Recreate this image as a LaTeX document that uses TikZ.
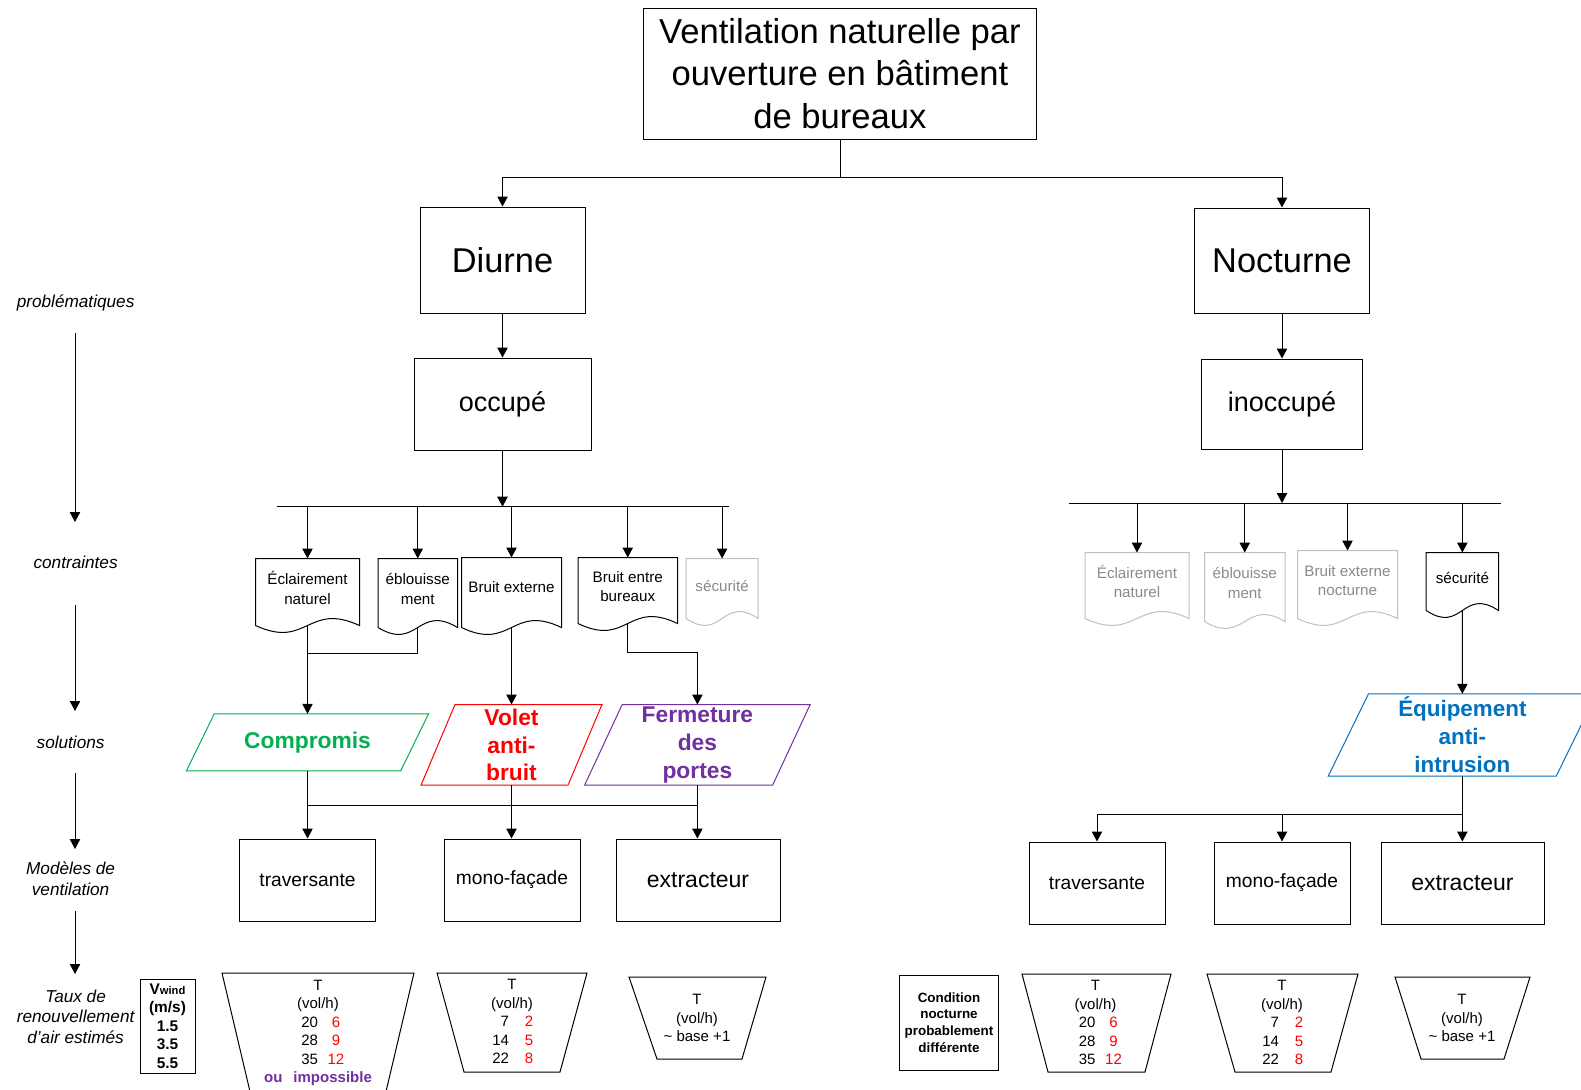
\documentclass[tikz,border=0pt]{standalone}
\usepackage{fontspec}
\setmainfont{Liberation Sans}
\usetikzlibrary{arrows.meta,calc,fit}
\definecolor{cgreen}{HTML}{00B050}
\definecolor{cpurple}{HTML}{7030A0}
\definecolor{cblue}{HTML}{0070C0}
\definecolor{cred}{HTML}{FF0000}
\definecolor{glin}{HTML}{BFBFBF}
\definecolor{gtxt}{HTML}{8A8A8A}
\newcommand\docout[2]{\draw[#2] (#1.south west) -- (#1.north west) -- (#1.north east) -- (#1.south east) .. controls ($(#1.south)+(0,-24)$) and ($(#1.south)+(0,24)$) .. (#1.south west) -- cycle;}
\newcommand\paraout[3]{\draw[#2] ($(#1.north west)+(#3,0)$) -- ($(#1.north east)+(#3,0)$) -- ($(#1.south east)+(-#3,0)$) -- ($(#1.south west)+(-#3,0)$) -- cycle;}
\newcommand\trow[4]{\hspace*{#4}\makebox[9pt][r]{#1}\hspace{#3}\makebox[9pt][c]{\textcolor{cred}{#2}}}
\begin{document}
\begin{tikzpicture}[x=0.5pt,y=-0.5pt,line width=0.5pt,
  arr/.style={-{Triangle[length=5pt,width=5.2pt]}},
  box/.style={draw,inner sep=0pt,align=center},
  fb/.style={inner sep=0pt},
  lab/.style={font=\fontsize{8.6}{10.3}\selectfont\itshape,align=center},
  ctext/.style={font=\fontsize{7.6}{9.7}\selectfont,align=center},
  soltext/.style={font=\fontsize{11.4}{13.9}\selectfont\bfseries,align=center},
  mtext/.style={font=\fontsize{9.6}{11}\selectfont},
  btext/.style={font=\fontsize{11.5}{13}\selectfont},
  ttext/.style={font=\fontsize{7.5}{9.25}\selectfont,align=center}]
\useasboundingbox (0,0) rectangle (1581,1089);

% ---- top level
\node[box,minimum width=393*0.5pt,minimum height=131*0.5pt,font=\fontsize{17.3}{21.25}\selectfont] (title) at (840,73.5) {Ventilation naturelle par\\ouverture en bâtiment\\de bureaux};
\node[box,minimum width=165*0.5pt,minimum height=106*0.5pt,font=\fontsize{17.2}{20}\selectfont] (diurne) at (502.5,260) {Diurne};
\node[box,minimum width=175*0.5pt,minimum height=105*0.5pt,font=\fontsize{17.2}{20}\selectfont] (nocturne) at (1282,260.5) {Nocturne};
\node[box,minimum width=177*0.5pt,minimum height=92*0.5pt,font=\fontsize{13.5}{16}\selectfont] (occupe) at (502.5,404) {occupé};
\node[box,minimum width=161*0.5pt,minimum height=90*0.5pt,font=\fontsize{13.5}{16}\selectfont] (inoccupe) at (1282,404) {inoccupé};

\coordinate (tj) at (840,177);
\draw (title.south) -- (tj);
\draw[arr] (tj) -| (diurne.north);
\draw[arr] (tj) -| (nocturne.north);
\draw[arr] (diurne.south) -- (occupe.north);
\draw[arr] (nocturne.south) -- (inoccupe.north);

% ---- buses
\coordinate (busL1) at (276.5,506.7);
\coordinate (busL2) at (729,506.7);
\draw (busL1) -- (busL2);
\draw[arr] (occupe.south) -- (occupe.south |- busL1);
\coordinate (busR1) at (1068.6,503);
\coordinate (busR2) at (1501,503);
\draw (busR1) -- (busR2);
\draw[arr] (inoccupe.south) -- (inoccupe.south |- busR1);

% ---- constraints (left)
\node[fb,fit={(256,559) (359,625)}] (ecl) {};
\node[fb,fit={(378.5,559) (457,627)}] (ebl) {};
\node[fb,fit={(462,558) (561,627)}] (bext) {};
\node[fb,fit={(578.5,558) (677,623)}] (bent) {};
\node[fb,fit={(686.6,559) (757.6,618)}] (secL) {};
\docout{ecl}{black}
\docout{ebl}{black}
\docout{bext}{black}
\docout{bent}{black}
\docout{secL}{glin}
\node[ctext] (eclt) at ($(ecl.center)+(0,-4)$) {Éclairement\\naturel};
\node[ctext] (eblt) at ($(ebl.center)+(0,-4)$) {éblouisse\\ment};
\node[ctext] (bextt) at ($(bext.center)+(0,-5)$) {Bruit externe};
\node[ctext] (bentt) at ($(bent.center)+(0,-4)$) {Bruit entre\\bureaux};
\node[ctext,text=gtxt] (secLt) at ($(secL.center)+(0,-3)$) {sécurité};
\foreach \n in {ecl,ebl,bext,bent,secL} \draw[arr] (\n.north |- busL1) -- (\n.north);

% ---- constraints (right)
\node[fb,fit={(1085.5,553) (1188.5,618)}] (eclR) {};
\node[fb,fit={(1205,553) (1284.5,621)}] (eblR) {};
\node[fb,fit={(1298,551) (1397,618)}] (bextR) {};
\node[fb,fit={(1426.7,553) (1498,610)}] (secR) {};
\docout{eclR}{glin}
\docout{eblR}{glin}
\docout{bextR}{glin}
\docout{secR}{black}
\node[ctext,text=gtxt] (eclRt) at ($(eclR.center)+(0,-4)$) {Éclairement\\naturel};
\node[ctext,text=gtxt] (eblRt) at ($(eblR.center)+(0,-4)$) {éblouisse\\ment};
\node[ctext,text=gtxt] (bextRt) at ($(bextR.center)+(0,-4)$) {Bruit externe\\nocturne};
\node[ctext] (secRt) at ($(secR.center)+(0,-4)$) {sécurité};
\foreach \n in {eclR,eblR,bextR,secR} \draw[arr] (\n.north |- busR1) -- (\n.north);

% ---- solutions
\node[fb,fit={(200.85,714.3) (414.15,770.3)}] (comp) {};
\node[fb,fit={(438.5,705) (584.5,784.7)}] (volet) {};
\node[fb,fit={(603.9,705) (790.9,784.7)}] (ferm) {};
\node[fb,fit={(1348.85,694.3) (1575.85,775.7)}] (equip) {};
\paraout{comp}{cgreen}{13.9}
\paraout{volet}{cred}{17}
\paraout{ferm}{cpurple}{18.8}
\paraout{equip}{cblue}{20.15}
\node[soltext,text=cgreen] (compt) at (comp.center) {Compromis};
\node[soltext,text=cred] (volett) at (volet.center) {Volet\\anti-\\bruit};
\node[soltext,text=cpurple] (fermt) at (ferm.center) {Fermeture\\des\\portes};
\node[soltext,text=cblue,font=\fontsize{11.2}{14}\selectfont\bfseries] (equipt) at (equip.center) {Équipement\\anti-\\intrusion};

\draw[arr] (ecl.south) -- (comp.north);
\draw (ebl.south) -- ++(0,26) -| (ecl.south);
\draw[arr] (bext.south) -- (bext.south |- volet.north);
\draw[arr] (bent.south) -- ++(0,28.7) -| (ferm.north);
\draw[arr] (secR.south) -- (equip.north);

% ---- models
\node[box,minimum width=136*0.5pt,minimum height=82*0.5pt,mtext] (trav) at (307.5,880) {traversante};
\node[box,minimum width=136*0.5pt,minimum height=82*0.5pt,mtext] (mono) at (512,880) {mono-façade};
\node[box,minimum width=164*0.5pt,minimum height=82*0.5pt,btext] (extr) at (698,880) {extracteur};
\node[box,minimum width=136*0.5pt,minimum height=82*0.5pt,mtext] (travR) at (1097,883) {traversante};
\node[box,minimum width=136*0.5pt,minimum height=82*0.5pt,mtext] (monoR) at (1282,883) {mono-façade};
\node[box,minimum width=163*0.5pt,minimum height=82*0.5pt,btext] (extrR) at (1462.5,883) {extracteur};

\coordinate (hL) at (0,805.7);
\draw[arr] (comp.south) -- (trav.north);
\draw[arr] (volet.south) -- (volet.south |- mono.north);
\draw[arr] (ferm.south) -- (ferm.south |- extr.north);
\draw (comp.south |- hL) -- (ferm.south |- hL);
\coordinate (hR) at (0,814);
\draw[arr] (equip.south) -- (equip.south |- extrR.north);
\draw[arr] (equip.south |- hR) -| (travR.north);
\draw[arr] (equip.south |- hR) -| (monoR.north);

% ---- left labels
\node[lab] (lp) at (75.6,302.5) {problématiques};
\node[lab] (lc) at (75.6,562.6) {contraintes};
\node[lab] (ls) at (70.6,742) {solutions};
\node[lab] (lm) at (70.6,878.5) {Modèles de\\ventilation};
\node[lab] (lt) at (75.6,1016.5) {Taux de\\renouvellement\\d'air estimés};
\coordinate (a1s) at (75,333); \coordinate (a1e) at (75,522);
\coordinate (a2s) at (75,605); \coordinate (a2e) at (75,711);
\coordinate (a3s) at (75,773); \coordinate (a3e) at (75,849);
\coordinate (a4s) at (75,911); \coordinate (a4e) at (75,974);
\draw[arr] (a1s) -- (a1e);
\draw[arr] (a2s) -- (a2e);
\draw[arr] (a3s) -- (a3e);
\draw[arr] (a4s) -- (a4e);

% ---- bottom row
\node[box,minimum width=55*0.5pt,minimum height=94*0.5pt,font=\fontsize{7.7}{9.25}\selectfont\bfseries] (vwind) at (167.5,1026) {V{\fontsize{5.6}{6}\selectfont wind}\\(m/s)\\1.5\\3.5\\5.5};
\node[box,minimum width=99*0.5pt,minimum height=95*0.5pt,font=\fontsize{6.7}{8.35}\selectfont\bfseries] (cond) at (949,1022.5) {Condition\\nocturne\\probablement\\différente};

\draw (222,973) -- (414,973) -- (384,1100) -- (252,1100) -- cycle;
\draw (437,973) -- (587,973) -- (560,1072) -- (464,1072) -- cycle;
\draw (629,977) -- (766,977) -- (742,1059) -- (657,1059) -- cycle;
\draw (1022,974) -- (1171,974) -- (1145,1072) -- (1048,1072) -- cycle;
\draw (1207,974) -- (1358,974) -- (1331,1072) -- (1235,1072) -- cycle;
\draw (1395,977) -- (1530,977) -- (1504,1059) -- (1421,1059) -- cycle;

\node[ttext] (t1) at (318,1033) {T\\(vol/h)\\\trow{20}{6}{4.5pt}{4.5pt}\\\trow{28}{9}{4.5pt}{4.5pt}\\\trow{35}{12}{4.5pt}{4.5pt}\\\textcolor{cpurple}{\bfseries ou\hspace{5.5pt}impossible}};
\node[ttext] (t2) at (512,1021.5) {T\\(vol/h)\\\trow{7}{2}{5.5pt}{2.5pt}\\\trow{14}{5}{5.5pt}{2.5pt}\\\trow{22}{8}{5.5pt}{2.5pt}};
\node[ttext] (t3) at (697,1018) {T\\(vol/h)\\\textasciitilde{} base +1};
\node[ttext] (t4) at (1095.5,1022.5) {T\\(vol/h)\\\trow{20}{6}{4.5pt}{4.5pt}\\\trow{28}{9}{4.5pt}{4.5pt}\\\trow{35}{12}{4.5pt}{4.5pt}};
\node[ttext] (t5) at (1282,1022.5) {T\\(vol/h)\\\trow{7}{2}{5.5pt}{2.5pt}\\\trow{14}{5}{5.5pt}{2.5pt}\\\trow{22}{8}{5.5pt}{2.5pt}};
\node[ttext] (t6) at (1462,1018) {T\\(vol/h)\\\textasciitilde{} base +1};
\end{tikzpicture}
\end{document}
